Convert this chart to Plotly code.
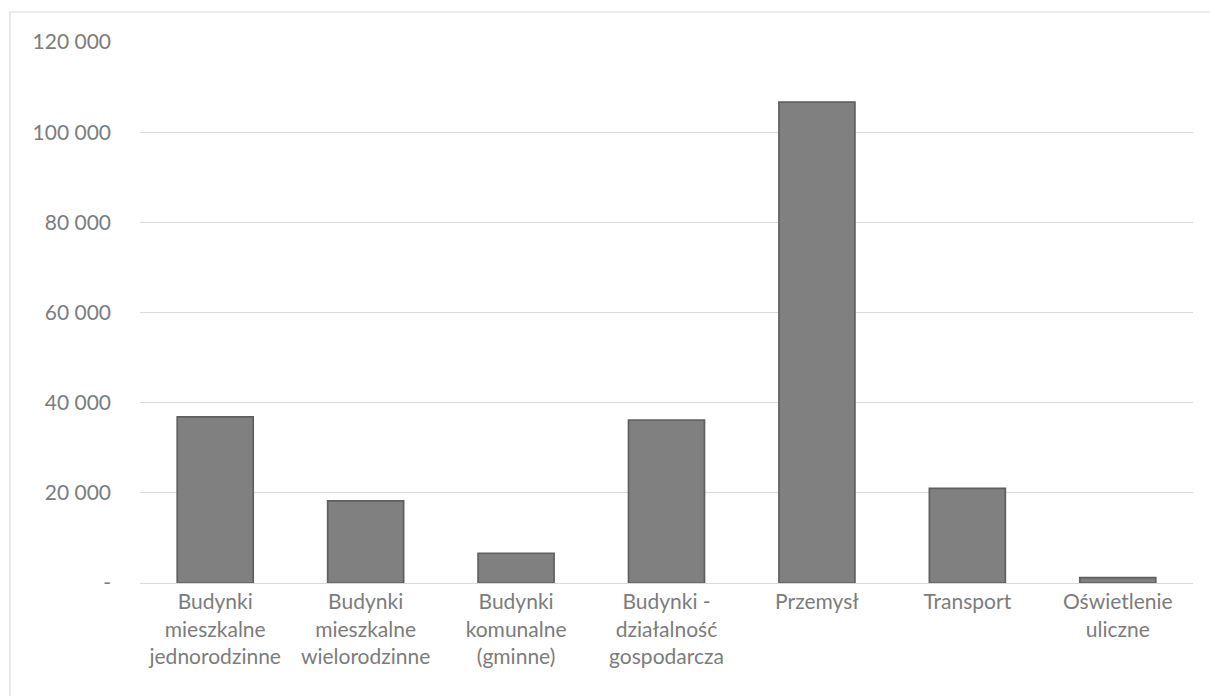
import plotly.graph_objects as go

# Sector categories (x axis), one label per bar, wrapped over lines
categories = [
    "Budynki<br>mieszkalne<br>jednorodzinne",
    "Budynki<br>mieszkalne<br>wielorodzinne",
    "Budynki<br>komunalne<br>(gminne)",
    "Budynki -<br>działalność<br>gospodarcza",
    "Przemysł",
    "Transport",
    "Oświetlenie<br>uliczne",
]
values = [36850, 18200, 6600, 36150, 106650, 21000, 1200]

# Y axis ticks
y_tickvals = [0, 20000, 40000, 60000, 80000, 100000, 120000]
y_ticktext = ["-", "20 000", "40 000", "60 000", "80 000", "100 000", "120 000"]

FONT = "Lato, Calibri, Carlito, sans-serif"
TEXT = "#7c7c7c"
GRID = "#d9d9d9"

fig = go.Figure(
    go.Bar(
        x=categories,
        y=values,
        marker=dict(color="#808080", line=dict(color="#5f5f5f", width=1.7)),
        width=0.505,
        hoverinfo="x+y",
    )
)

L, R, T, B = 140, 17, 42, 113
W, H = 1210, 696
pw, ph = W - L - R, H - T - B

fig.update_layout(
    width=W,
    height=H,
    margin=dict(l=L, r=R, t=T, b=B, pad=0),
    paper_bgcolor="white",
    plot_bgcolor="white",
    showlegend=False,
    font=dict(family=FONT, size=21, color=TEXT),
    xaxis=dict(
        showgrid=False,
        showline=True,
        linecolor=GRID,
        linewidth=1,
        ticks="",
        tickfont=dict(family=FONT, size=21, color=TEXT),
        fixedrange=True,
    ),
    yaxis=dict(
        range=[0, 120000],
        tickvals=y_tickvals,
        ticktext=y_ticktext,
        showgrid=True,
        gridcolor=GRID,
        gridwidth=1,
        zeroline=False,
        showline=False,
        ticks="",
        ticklabelstandoff=28,
        tickfont=dict(family=FONT, size=21, color=TEXT),
        fixedrange=True,
    ),
    shapes=[
        # chart frame, partly running off the page on the right and bottom
        dict(
            type="rect",
            xref="paper",
            yref="paper",
            x0=(10 - L) / pw,
            x1=(W + 20 - L) / pw,
            y0=-(H + 20 - T - ph) / ph,
            y1=1 + (T - 12) / ph,
            line=dict(color=GRID, width=1.2),
            fillcolor="rgba(0,0,0,0)",
            layer="below",
        )
    ],
)

fig.write_html("out.html")
